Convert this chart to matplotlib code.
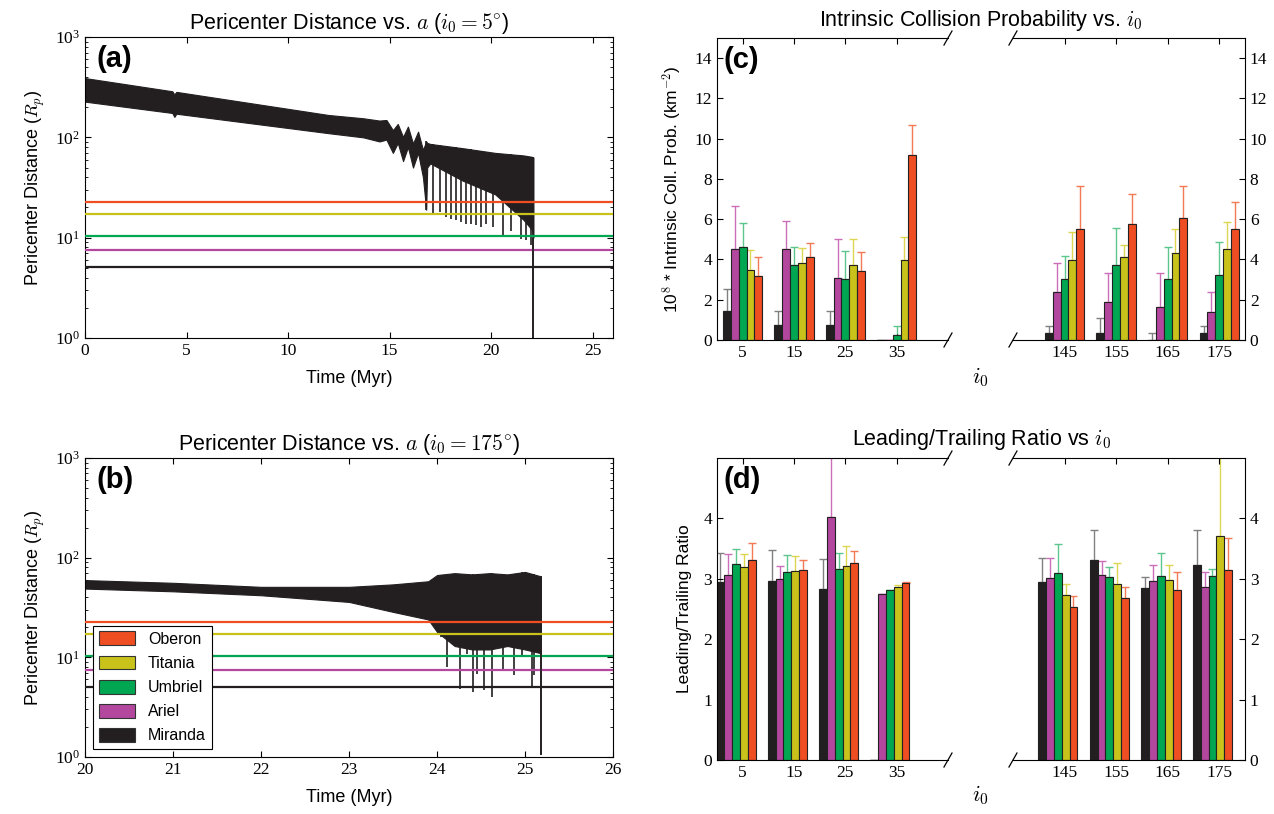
import numpy as np
import matplotlib.pyplot as plt
from matplotlib.patches import Patch
from matplotlib.ticker import LogLocator, NullFormatter, LogFormatterMathtext

plt.rcParams['font.family'] = ['Liberation Serif', 'DejaVu Serif']
plt.rcParams['mathtext.fontset'] = 'cm'
SANS = ['Liberation Sans', 'DejaVu Sans']

# moons: name, orbital radius in Uranus radii, colour
moon_names = ['Oberon', 'Titania', 'Umbriel', 'Ariel', 'Miranda']
moon_radii = [22.83, 17.06, 10.41, 7.47, 5.06]
moon_colors = ['#EE4E22', '#C8C21A', '#00A651', '#B3479E', '#231F20']
TRACE = '#231F20'

# (a) i0 = 5 deg: envelope of the pericenter trace (Rp)
a_time = [0.0, 4.3, 4.4, 4.5, 12.0, 13.7, 14.5, 14.84, 15.16, 15.4, 15.66, 15.9,
          16.15, 16.4, 16.64, 16.8, 16.85, 17.0, 18.6, 20.2, 21.6, 22.0, 22.08]
a_upper = [390, 288, 268, 284, 167, 155, 147, 149, 118, 136, 101, 128,
           87, 114, 75, 91, 88, 86, 78, 70, 66, 64, 63]
a_lower = [227, 175, 160, 172, 110, 100, 91, 95, 70, 88, 58, 80,
           50, 70, 40, 19, 50, 55, 37, 27, 15, 12, 10]
a_spike_t = [16.80, 17.13, 17.46, 17.79, 18.03, 18.28, 18.52, 18.77, 19.02, 19.26,
             19.51, 19.75, 20.08, 20.57, 20.98, 21.48, 21.72, 21.97, 22.08]
a_spike_lo = [18.8, 17.4, 17.9, 16.1, 15.5, 14.9, 14.4, 13.8, 13.8, 13.3,
              12.8, 13.8, 12.8, 10.6, 11.6, 9.8, 9.4, 8.4, 1.0]

# (b) i0 = 175 deg
b_time = [20.0, 21.0, 22.0, 23.0, 23.5, 23.9, 24.0, 24.2, 24.4, 24.6, 24.8, 25.0, 25.18]
b_upper = [59.6, 56, 51, 51, 54, 58, 67, 70, 68, 70, 68, 72, 65]
b_lower = [49, 46, 42, 36, 28.6, 24, 18, 13, 12, 12, 13, 12, 11]
b_spike_t = [24.04, 24.11, 24.26, 24.34, 24.41, 24.45, 24.53, 24.63, 24.75, 24.87,
             24.96, 25.08, 25.10, 25.18]
b_spike_lo = [16, 8.0, 4.8, 10.9, 4.5, 6.8, 4.7, 4.0, 7.4, 6.6, 10.1, 5.0, 6.6, 1.05]

# (c), (d) per initial inclination, series ordered Miranda..Oberon
incl = [5, 15, 25, 35, 145, 155, 165, 175]
bar_order = ['Miranda', 'Ariel', 'Umbriel', 'Titania', 'Oberon']

prob = {
    'Miranda': [1.44, 0.75, 0.75, 0.0, 0.36, 0.36, 0.0, 0.36],
    'Ariel':   [4.50, 4.50, 3.10, 0.0, 2.37, 1.89, 1.66, 1.41],
    'Umbriel': [4.64, 3.73, 3.01, 0.23, 3.03, 3.71, 3.03, 3.25],
    'Titania': [3.48, 3.84, 3.71, 3.96, 3.96, 4.11, 4.34, 4.54],
    'Oberon':  [3.16, 4.11, 3.44, 9.19, 5.50, 5.78, 6.04, 5.50],
}
prob_err = {
    'Miranda': [1.08, 0.69, 0.69, 0.0, 0.35, 0.72, 0.36, 0.35],
    'Ariel':   [2.17, 1.43, 1.90, 0.0, 1.44, 1.44, 1.67, 0.96],
    'Umbriel': [1.19, 0.91, 1.43, 0.48, 1.16, 1.86, 1.61, 1.63],
    'Titania': [1.01, 0.75, 1.29, 1.16, 1.42, 0.63, 1.16, 1.34],
    'Oberon':  [0.95, 0.69, 0.95, 1.51, 2.17, 1.49, 1.63, 1.35],
}
ratio = {
    'Miranda': [2.94, 2.96, 2.83, 0.0, 2.95, 3.32, 2.85, 3.23],
    'Ariel':   [3.07, 2.99, 4.02, 2.75, 3.01, 3.07, 2.97, 2.87],
    'Umbriel': [3.24, 3.11, 3.17, 2.81, 3.10, 3.03, 3.05, 3.05],
    'Titania': [3.20, 3.13, 3.22, 2.87, 2.73, 2.91, 2.98, 3.71],
    'Oberon':  [3.31, 3.14, 3.26, 2.93, 2.53, 2.69, 2.81, 3.14],
}
ratio_err = {
    'Miranda': [0.48, 0.51, 0.50, 0.0, 0.40, 0.49, 0.18, 0.58],
    'Ariel':   [0.34, 0.23, 1.30, 0.0, 0.34, 0.23, 0.26, 0.25],
    'Umbriel': [0.25, 0.28, 0.25, 0.0, 0.48, 0.16, 0.38, 0.12],
    'Titania': [0.21, 0.24, 0.33, 0.02, 0.18, 0.35, 0.25, 1.50],
    'Oberon':  [0.28, 0.18, 0.20, 0.02, 0.19, 0.18, 0.31, 0.54],
}

bar_colors = {'Miranda': '#231F20', 'Ariel': '#B3479E', 'Umbriel': '#00A651',
              'Titania': '#C8C21A', 'Oberon': '#EE4E22'}
err_colors = {'Miranda': '#808080', 'Ariel': '#CC6FBB', 'Umbriel': '#5CC68C',
              'Titania': '#DCD650', 'Oberon': '#F27A55'}


def pericenter_panel(ax, t, up, lo, sp_t, sp_lo, xlim, xticks, title, tag, legend=False):
    ax.fill_between(t, lo, up, color=TRACE, lw=0.8, edgecolor=TRACE, zorder=2)
    tops = np.interp(sp_t, t, up)
    ax.vlines(sp_t, sp_lo, tops, color=TRACE, lw=1.2, zorder=2)
    for name, r, c in zip(moon_names, moon_radii, moon_colors):
        ax.axhline(r, color=c, lw=1.6, zorder=3)
    # final plunge of the orbit drawn over the moon lines
    ax.vlines(sp_t[-1], sp_lo[-1], lo[-1], color=TRACE, lw=1.2, zorder=4)
    ax.set_yscale('log')
    ax.set_ylim(1, 1000)
    ax.set_xlim(*xlim)
    ax.set_xticks(xticks)
    ax.yaxis.set_major_locator(LogLocator(base=10, numticks=5))
    ax.yaxis.set_major_formatter(LogFormatterMathtext())
    ax.yaxis.set_minor_locator(LogLocator(base=10, subs=np.arange(2, 10), numticks=20))
    ax.yaxis.set_minor_formatter(NullFormatter())
    ax.tick_params(which='both', direction='in', top=True, right=True, labelsize=12.5)
    ax.tick_params(which='major', length=4)
    ax.tick_params(which='minor', length=2.5)
    ax.set_xlabel('Time (Myr)', family=SANS, fontsize=13, labelpad=8)
    ax.set_ylabel('Pericenter Distance ($R_p$)', family=SANS, fontsize=13, labelpad=6)
    ax.set_title(title, family=SANS, fontsize=15.5, pad=6)
    ax.text(0.022, 0.975, tag, transform=ax.transAxes, ha='left', va='top',
            family=SANS, fontsize=21, fontweight='bold')
    if legend:
        handles = [Patch(facecolor=c, edgecolor='#333333', lw=0.8, label=n)
                   for n, c in zip(moon_names, moon_colors)]
        leg = ax.legend(handles=handles, loc='lower left', fancybox=False,
                        framealpha=1, edgecolor='black', borderaxespad=0.5,
                        handlelength=2.3, handleheight=0.95, labelspacing=0.55,
                        borderpad=0.35, prop={'family': SANS, 'size': 11.5})
        leg.get_frame().set_linewidth(0.8)


def break_marks(ax, side):
    # slanted "/" marks at the broken end of the top and bottom spines
    w = ax.get_window_extent().width
    h = ax.get_window_extent().height
    dx, dy = 4 / w, 7 / h
    x0 = 1 if side == 'right' else 0
    for y0 in (0, 1):
        ax.plot([x0 - dx, x0 + dx], [y0 - dy, y0 + dy], transform=ax.transAxes,
                color='black', lw=0.9, clip_on=False)


def bar_panel(ax_l, ax_r, vals, errs, ylim, yticks, ylabel, title, tag, shift, ytitle):
    width = 1.52
    for ax, keep in ((ax_l, lambda v: v < 90), (ax_r, lambda v: v > 90)):
        idx = [i for i, v in enumerate(incl) if keep(v)]
        xs = np.array([incl[i] for i in idx], dtype=float)
        for k, name in enumerate(bar_order):
            pos = xs + shift + (k - 2) * width
            v = np.array([vals[name][i] for i in idx])
            e = np.array([errs[name][i] for i in idx])
            ax.errorbar(pos, v, yerr=[np.zeros_like(e), e], fmt='none',
                        ecolor=err_colors[name], elinewidth=1.0, capsize=2.6,
                        capthick=1.0, zorder=1)
            ax.bar(pos, v, width=width, color=bar_colors[name],
                   edgecolor='#222222', lw=0.8, zorder=2)
        ax.set_xticks(xs)
        ax.set_ylim(*ylim)
        ax.set_yticks(yticks)
        ax.tick_params(direction='in', top=True, labelsize=12.5, length=4)
    ax_l.set_xlim(0, 45)
    ax_r.set_xlim(135, 180)
    ax_l.spines['right'].set_visible(False)
    ax_r.spines['left'].set_visible(False)
    ax_l.tick_params(right=False)
    ax_r.tick_params(left=False, labelleft=False, right=True, labelright=True)
    break_marks(ax_l, 'right')
    break_marks(ax_r, 'left')
    ax_l.set_ylabel(ylabel, family=SANS, fontsize=12.5, labelpad=8)
    ax_l.text(0.03, 0.975, tag, transform=ax_l.transAxes, ha='left', va='top',
              family=SANS, fontsize=21, fontweight='bold')
    fig.text(981 / 1274, ytitle, title, ha='center', va='bottom',
             family=SANS, fontsize=15.5)


fig = plt.figure(figsize=(12.74, 8.14), dpi=100)

ax_a = fig.add_axes([0.0667, 0.5848, 0.4145, 0.3697])
ax_b = fig.add_axes([0.0667, 0.0700, 0.4145, 0.3673])
c_l = fig.add_axes([0.5628, 0.5823, 0.1813, 0.3710])
c_r = fig.add_axes([0.7951, 0.5823, 0.1821, 0.3710])
d_l = fig.add_axes([0.5628, 0.0663, 0.1813, 0.3710])
d_r = fig.add_axes([0.7951, 0.0663, 0.1821, 0.3710])

pericenter_panel(ax_a, a_time, a_upper, a_lower, a_spike_t, a_spike_lo,
                 (0, 26), [0, 5, 10, 15, 20, 25],
                 r'Pericenter Distance vs. $a$ ($i_0 = 5^{\circ}$)', '(a)')
pericenter_panel(ax_b, b_time, b_upper, b_lower, b_spike_t, b_spike_lo,
                 (20, 26), [20, 21, 22, 23, 24, 25, 26],
                 r'Pericenter Distance vs. $a$ ($i_0 = 175^{\circ}$)', '(b)', legend=True)

bar_panel(c_l, c_r, prob, prob_err, (0, 15), range(0, 15, 2),
          r'10$^8$ * Intrinsic Coll. Prob. (km$^{-2}$)',
          r'Intrinsic Collision Probability vs. $i_0$', '(c)', 0.0, 0.960)
bar_panel(d_l, d_r, ratio, ratio_err, (0, 5), range(0, 5),
          'Leading/Trailing Ratio',
          r'Leading/Trailing Ratio vs $i_0$', '(d)', -1.3, 0.445)

fig.text(980 / 1274, 1 - 377 / 814, r'$i_0$', ha='center', va='center', fontsize=16)
fig.text(980 / 1274, 1 - 795 / 814, r'$i_0$', ha='center', va='center', fontsize=16)

fig.savefig('out.png', dpi=100)
